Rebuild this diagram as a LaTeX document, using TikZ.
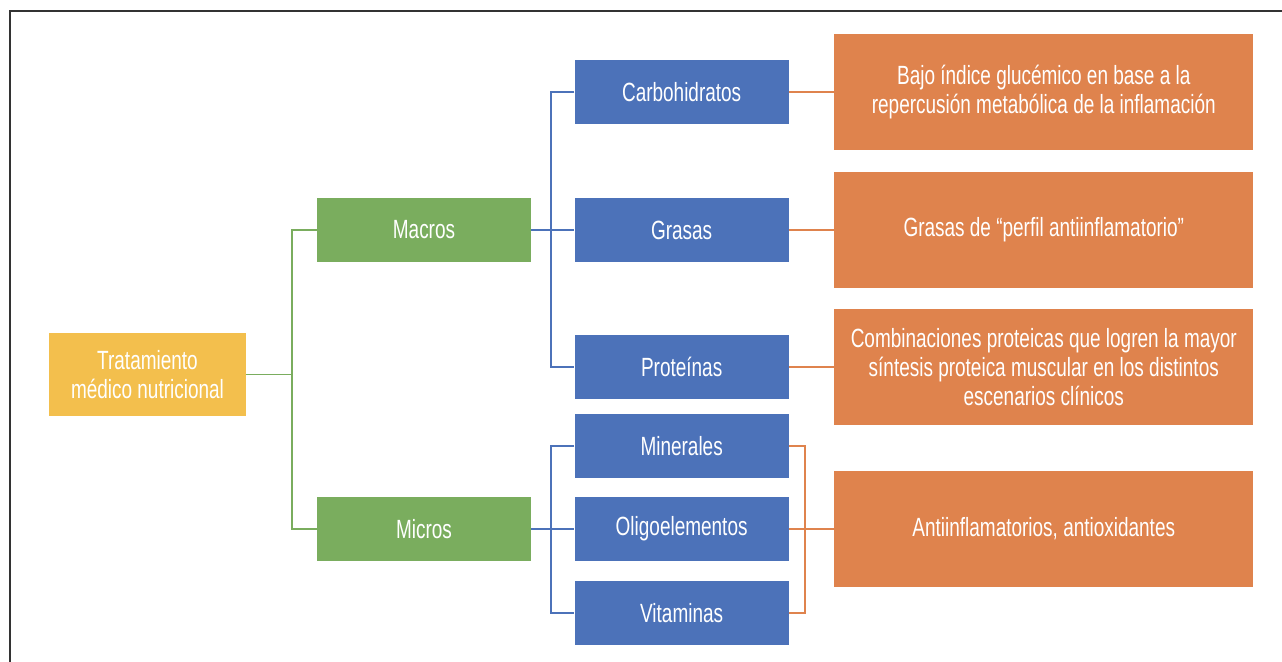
\documentclass[tikz,border=0pt]{standalone}
\usepackage{fontspec}
\setmainfont{Liberation Sans}[FakeStretch=0.72]
\usetikzlibrary{positioning}
\definecolor{tratyellow}{HTML}{F3BF4D}
\definecolor{macrogreen}{HTML}{7AAD5E}
\definecolor{nutblue}{HTML}{4C72B9}
\definecolor{effectorange}{HTML}{DF834D}
\definecolor{framegray}{HTML}{333333}

\begin{document}
\begin{tikzpicture}[x=0.02cm, y=-0.02cm,
  box/.style={rectangle, text=white, align=center, inner sep=0pt, font=\fontsize{15}{16.5}\selectfont},
  yellowbox/.style={box, fill=tratyellow, minimum width=3.94cm, minimum height=1.66cm},
  greenbox/.style={box, fill=macrogreen, minimum width=4.28cm, minimum height=1.28cm},
  bluebox/.style={box, fill=nutblue, minimum width=4.28cm, minimum height=1.28cm},
  orangebox/.style={box, fill=effectorange, minimum width=8.38cm, minimum height=2.32cm},
  greenline/.style={draw=macrogreen, line width=0.04cm},
  blueline/.style={draw=nutblue, line width=0.04cm},
  orangeline/.style={draw=effectorange, line width=0.04cm}]
\useasboundingbox (0,0) rectangle (1282,662);

% Frame
\draw[framegray, line width=0.045cm] (1282,11) -- (10,11) -- (10,662);

% Root and groups
\node[yellowbox] (trat) at (147.5,374.5) {Tratamiento\\médico nutricional};
\node[greenbox] (macros) at (424,230) {Macros};
\node[greenbox] (micros) at (424,529) {Micros};

% Macronutrients
\node[bluebox, right=0.86cm of macros] (grasas) {Grasas};
\node[bluebox, above=1.46cm of grasas] (carbo) {Carbohidratos};
\node[bluebox, below=1.44cm of grasas] (prot) {Proteínas};

% Micronutrients
\node[bluebox, right=0.86cm of micros] (oligo) {Oligoelementos};
\node[bluebox, above=0.36cm of oligo] (miner) {Minerales};
\node[bluebox, below=0.38cm of oligo] (vitam) {Vitaminas};

% Effects
\node[orangebox, right=0.9cm of carbo] (bajo) {Bajo índice glucémico en base a la\\repercusión metabólica de la inflamación};
\node[orangebox, right=0.9cm of grasas] (perfil) {Grasas de “perfil antiinflamatorio”};
\node[orangebox, right=0.9cm of prot] (combi) {Combinaciones proteicas que logren la mayor\\síntesis proteica muscular en los distintos\\escenarios clínicos};
\node[orangebox, right=0.9cm of oligo] (anti) {Antiinflamatorios, antioxidantes};

% Joints
\coordinate (gjoin) at (292,374.5);
\coordinate (bjoin) at (551,230);
\coordinate (bjoin2) at (551,529);
\coordinate (ojoin) at (805,529);

% Lines for groups
\draw[greenline] (trat.east) -- (gjoin);
\draw[greenline] (macros.west) -| (gjoin) |- (micros.west);

% Lines for nutrients
\draw[blueline] (macros.east) -- (grasas.west);
\draw[blueline] (carbo.west) -| (bjoin) |- (prot.west);
\draw[blueline] (micros.east) -- (oligo.west);
\draw[blueline] (miner.west) -| (bjoin2) |- (vitam.west);

% Lines for effects
\draw[orangeline] (carbo.east) -- (bajo.west);
\draw[orangeline] (grasas.east) -- (perfil.west);
\draw[orangeline] (prot.east) -- (combi.west);
\draw[orangeline] (miner.east) -| (ojoin) |- (vitam.east);
\draw[orangeline] (oligo.east) -- (anti.west);
\end{tikzpicture}
\end{document}
